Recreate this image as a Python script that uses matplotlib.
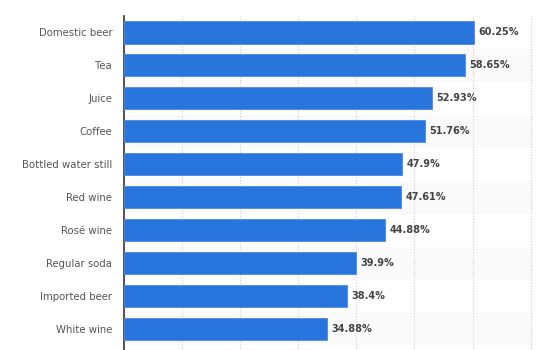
import matplotlib.pyplot as plt
import numpy as np

# Data
categories = ['Domestic beer', 'Tea', 'Juice', 'Coffee', 'Bottled water still',
              'Red wine', 'Rosé wine', 'Regular soda', 'Imported beer', 'White wine']
shares = [60.25, 58.65, 52.93, 51.76, 47.9, 47.61, 44.88, 39.9, 38.4, 34.88]
value_labels = ['60.25%', '58.65%', '52.93%', '51.76%', '47.9%',
                '47.61%', '44.88%', '39.9%', '38.4%', '34.88%']

W, H = 543, 350
fig = plt.figure(figsize=(W / 100, H / 100), dpi=100)
ax = fig.add_axes([124 / W, 0, (533 - 124) / W, (350 - 16) / H])

y = np.arange(len(categories))

# alternating row bands
for i in y:
    if i % 2 == 1:
        ax.axhspan(i - 0.5, i + 0.5, color='#fafafa', zorder=0, lw=0)

ax.barh(y, shares, height=0.67, color='#2876dd', edgecolor='#4a8ae6', lw=0.6, zorder=3)

for yi, v, lab in zip(y, shares, value_labels):
    ax.text(v + 0.8, yi, lab, va='center', ha='left', fontsize=7.0,
            fontweight='bold', color='#444444', zorder=4)

ax.set_xlim(0, 70.4)
ax.set_ylim(9.64, -0.5)
ax.set_xticks(np.arange(10, 80, 10))
ax.xaxis.grid(True, linestyle=(0, (1, 1.5)), color='#cfcfcf', lw=0.8, zorder=1)
ax.set_axisbelow(True)
ax.tick_params(axis='x', length=0, labelbottom=False)
ax.tick_params(axis='y', length=0, pad=8.5, labelsize=7.3, labelcolor='#555555')
ax.set_yticks(y)
ax.set_yticklabels(categories)

for s in ['top', 'right', 'bottom']:
    ax.spines[s].set_visible(False)
ax.spines['left'].set_color('#333333')
ax.spines['left'].set_linewidth(1.2)

fig.savefig('out.png', dpi=100)
